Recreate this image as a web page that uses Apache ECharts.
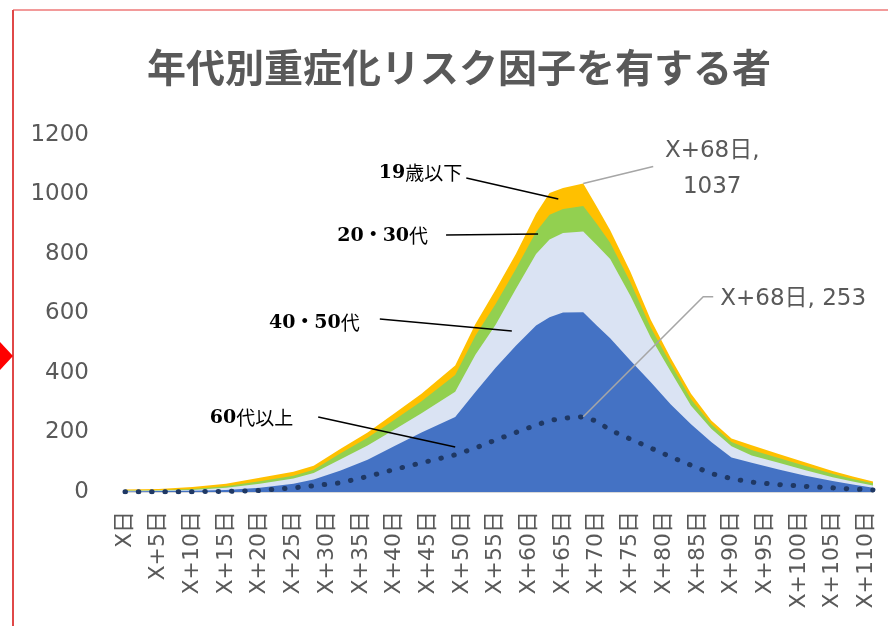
<!DOCTYPE html>
<html lang="ja">
<head>
<meta charset="UTF-8">
<title>年代別重症化リスク因子を有する者</title>
<style>
  * { margin: 0; padding: 0; }
  html, body, #chart { width: 888px; height: 626px; overflow: hidden; background: #fff; }
</style>
</head>
<body>
<div id="chart"></div>
<script src="https://cdn.jsdelivr.net/npm/echarts@6.0.0/dist/echarts.min.js"></script>
<script>
  // X日からの経過日数
  const days     = [0, 5, 10, 15, 20, 25, 28, 32, 36, 40, 44, 49, 52, 55, 58, 61, 63, 65, 68, 70, 72, 75, 78, 81, 84, 87, 90, 93, 97, 101, 105, 108, 111];
  // 年代別（積み上げ）
  const age60up  = [2, 3, 4, 7, 14, 28, 42, 72, 108, 155, 200, 252, 336, 418, 492, 560, 587, 603, 604, 560, 517, 442, 370, 294, 228, 168, 116, 98, 76, 55, 37, 25, 14];
  const age4050  = [2, 2, 3, 7, 14, 17, 22, 38, 48, 55, 65, 85, 125, 144, 190, 240, 262, 268, 272, 270, 266, 218, 150, 110, 62, 45, 38, 25, 22, 18, 13, 10, 8];
  const age2030  = [1, 1, 3, 5, 8, 10, 11, 20, 26, 33, 40, 56, 64, 70, 68, 75, 83, 80, 85, 72, 55, 45, 34, 26, 22, 15, 14, 18, 16, 14, 11, 9, 7];
  const age19    = [3, 4, 7, 9, 12, 13, 13, 15, 18, 22, 25, 32, 40, 48, 50, 60, 73, 71, 76, 58, 42, 35, 26, 20, 18, 12, 12, 16, 14, 12, 10, 8, 6];
  // 点線
  const dotLine  = [1, 1, 1, 2, 5, 14, 21, 31, 52, 76, 98, 125, 148, 175, 200, 225, 240, 248, 253, 238, 208, 178, 148, 118, 90, 62, 45, 33, 25, 19, 14, 10, 7];

  const tickLabels = ['X日', 'X+5日', 'X+10日', 'X+15日', 'X+20日', 'X+25日', 'X+30日', 'X+35日', 'X+40日',
    'X+45日', 'X+50日', 'X+55日', 'X+60日', 'X+65日', 'X+70日', 'X+75日', 'X+80日', 'X+85日', 'X+90日',
    'X+95日', 'X+100日', 'X+105日', 'X+110日'];

  const FONT = "'DejaVu Sans', 'Noto Sans CJK JP', sans-serif";
  const GRAY = '#595959';

  // 積み上げの上端（下の層から順に足す）
  const groups = [age60up, age4050, age2030, age19];
  const tops = [];
  groups.forEach(function(arr, g) {
    tops.push(arr.map((v, i) => v + (g > 0 ? tops[g - 1][i] : 0)));
  });

  function pairs(arr) {
    return arr.map((v, i) => [days[i], v]);
  }

  // 上の層から描いて、下の層で塗り重ねる
  function areaSeries(name, arr, color, z) {
    return {
      name: name,
      type: 'line',
      data: pairs(arr),
      showSymbol: false,
      z: z,
      lineStyle: { width: 0 },
      areaStyle: { color: color, opacity: 1 },
      itemStyle: { color: color },
      silent: true
    };
  }

  let chart = echarts.init(document.getElementById('chart'));
  let option = {
    backgroundColor: '#fff',
    animation: false,
    title: {
      text: '年代別重症化リスク因子を有する者',
      left: 147,
      top: 48,
      padding: 0,
      textStyle: { fontFamily: "'Noto Sans CJK JP', sans-serif", fontSize: 39, fontWeight: 'bold', color: GRAY }
    },
    grid: { left: 125, right: 15, top: 135, bottom: 134 },
    xAxis: {
      type: 'value',
      min: 0,
      max: 111,
      interval: 5,
      splitLine: { show: false },
      axisTick: { show: false },
      axisLine: { show: true, lineStyle: { color: '#d9d9d9' } },
      axisLabel: {
        rotate: 90,
        margin: 19,
        fontFamily: FONT,
        fontSize: 22,
        color: GRAY,
        formatter: function(v) {
          return v % 5 === 0 && tickLabels[v / 5] ? tickLabels[v / 5] : '';
        }
      }
    },
    yAxis: {
      type: 'value',
      min: 0,
      max: 1200,
      interval: 200,
      splitLine: { show: false },
      axisLine: { show: false },
      axisTick: { show: false },
      axisLabel: { margin: 36, fontFamily: FONT, fontSize: 23, color: GRAY, formatter: v => String(v) }
    },
    series: [
      areaSeries('19歳以下', tops[3], '#ffc000', 1),
      areaSeries('20・30代', tops[2], '#92d050', 2),
      areaSeries('40・50代', tops[1], '#dae3f3', 3),
      areaSeries('60代以上', tops[0], '#4472c4', 4),
      {
        name: '点線',
        type: 'line',
        data: pairs(dotLine),
        showSymbol: false,
        z: 5,
        silent: true,
        lineStyle: { color: '#1f3864', width: 5, type: [0.5, 12.8], cap: 'round' }
      }
    ]
  };
  chart.setOption(option);

  // 注記（引き出し線つき）
  const peakIdx = days.indexOf(68);
  const peakTotal = tops[3][peakIdx];

  function px(pt) {
    return chart.convertToPixel({ gridIndex: 0 }, pt);
  }

  const bandNotes = [
    { n: '19', c: '歳以下', at: [64.3, 985], from: [-92, -21], text: [-96, -26] },
    { n: '20・30', c: '代', at: [61.3, 867], from: [-92, 1], text: [-110, 2] },
    { n: '40・50', c: '代', at: [57.4, 541], from: [-132, -12], text: [-152, -8] },
    { n: '60', c: '代以上', at: [49.0, 151], from: [-137, -30], text: [-162, -29] }
  ];

  let graphics = [
    { type: 'line', shape: { x1: 13, y1: 10, x2: 888, y2: 10 }, style: { stroke: '#f29a9a', lineWidth: 2 } },
    { type: 'line', shape: { x1: 13, y1: 10, x2: 13, y2: 626 }, style: { stroke: '#e04848', lineWidth: 2 } },
    { type: 'polygon', shape: { points: [[0, 342], [13, 356], [0, 370]] }, style: { fill: '#ff0000' } }
  ];

  bandNotes.forEach(function(note) {
    let p = px(note.at);
    graphics.push({
      type: 'line',
      z: 10,
      shape: { x1: p[0] + note.from[0], y1: p[1] + note.from[1], x2: p[0], y2: p[1] },
      style: { stroke: '#000', lineWidth: 1.5 }
    });
    graphics.push({
      type: 'text',
      z: 10,
      style: {
        x: p[0] + note.text[0],
        y: p[1] + note.text[1],
        text: '{n|' + note.n + '}{c|' + note.c + '}',
        align: 'right',
        verticalAlign: 'middle',
        rich: {
          n: { fontFamily: "'DejaVu Serif', 'Noto Sans CJK JP', serif", fontWeight: 'bold', fontSize: 19, fill: '#000', color: '#000' },
          c: { fontFamily: "'Noto Sans CJK JP', sans-serif", fontSize: 19, fill: '#000', color: '#000' }
        }
      }
    });
  });

  // データラベル：合計のピーク
  let pTop = px([68, peakTotal]);
  graphics.push({
    type: 'line', z: 10,
    shape: { x1: pTop[0], y1: pTop[1], x2: pTop[0] + 70, y2: pTop[1] - 17 },
    style: { stroke: '#a6a6a6', lineWidth: 1.5 }
  });
  graphics.push({
    type: 'text', z: 10,
    style: {
      x: pTop[0] + 129, y: pTop[1] - 14,
      text: 'X+' + days[peakIdx] + '日,\n' + peakTotal,
      align: 'center', verticalAlign: 'middle',
      lineHeight: 36,
      font: "23px 'DejaVu Sans', 'Noto Sans CJK JP', sans-serif",
      fill: GRAY
    }
  });

  // データラベル：点線のピーク
  let pDot = px([68, dotLine[peakIdx]]);
  graphics.push({
    type: 'polyline', z: 10,
    shape: { points: [[pDot[0], pDot[1]], [pDot[0] + 120, pDot[1] - 120], [pDot[0] + 130, pDot[1] - 120]] },
    style: { stroke: '#a6a6a6', lineWidth: 1.5, fill: null }
  });
  graphics.push({
    type: 'text', z: 10,
    style: {
      x: pDot[0] + 137, y: pDot[1] - 118,
      text: 'X+' + days[peakIdx] + '日, ' + dotLine[peakIdx],
      align: 'left', verticalAlign: 'middle',
      font: "23px 'DejaVu Sans', 'Noto Sans CJK JP', sans-serif",
      fill: GRAY
    }
  });

  chart.setOption({ graphic: graphics });
</script>
</body>
</html>
